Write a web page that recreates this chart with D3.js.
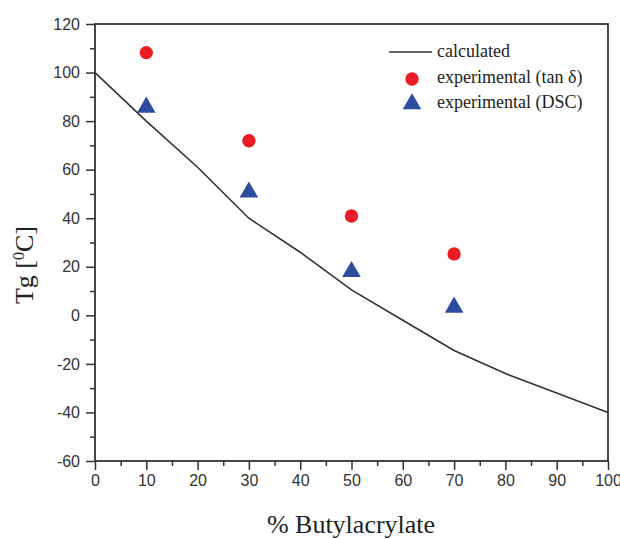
<!DOCTYPE html>
<html>
<head>
<meta charset="utf-8">
<script src="https://cdn.jsdelivr.net/npm/d3@7"></script>
<style>
  body { margin: 0; background: #fff; }
  .tick text { font-family: "Liberation Sans", Arial, sans-serif; font-size: 16px; fill: #333; }
  .tick line, .domain { stroke: #333; }
</style>
</head>
<body>
<div id="chart"></div>
<script>
  // percentages of butylacrylate
  var composition = [0, 10, 20, 30, 40, 50, 60, 70, 80, 90, 100];
  var calculated = [100, 80, 61, 40, 26, 10.5, -2, -14.5, -24, -32, -40];

  var expX = [10, 30, 50, 70];
  var tanDelta = [108.2, 71.9, 40.9, 25.3];
  var dsc = [85.7, 50.7, 18, 3.3];

  var xTicks = [0, 10, 20, 30, 40, 50, 60, 70, 80, 90, 100];
  var yTicks = [-60, -40, -20, 0, 20, 40, 60, 80, 100, 120];

  var legendLabels = ["calculated", "experimental (tan \u03b4)", "experimental (DSC)"];

  var W = 620, H = 539;
  var red = "#ec1c24", blue = "#2b4c9f", ink = "#333";

  var svg = d3.select("#chart").append("svg")
    .attr("width", W)
    .attr("height", H);

  var x = d3.scaleLinear().domain([0, 100]).range([95, 608]);
  var y = d3.scaleLinear().domain([-60, 120]).range([461, 24]);

  // plain hyphen for negatives, like the original
  var fmt = function(d) { return String(d); };

  // minor ticks first, then major with labels
  var xMinor = d3.range(5, 100, 10);
  var yMinor = d3.range(-50, 120, 20);

  svg.append("g")
    .attr("transform", "translate(0," + y(-60) + ")")
    .call(d3.axisBottom(x).tickValues(xMinor).tickSize(5).tickFormat(""))
    .call(function(g) { g.select(".domain").remove(); });

  svg.append("g")
    .attr("transform", "translate(" + x(0) + ",0)")
    .call(d3.axisLeft(y).tickValues(yMinor).tickSize(5).tickFormat(""))
    .call(function(g) { g.select(".domain").remove(); });

  svg.append("g")
    .attr("transform", "translate(0," + y(-60) + ")")
    .call(d3.axisBottom(x).tickValues(xTicks).tickSize(9).tickPadding(5).tickFormat(fmt))
    .call(function(g) { g.select(".domain").remove(); });

  svg.append("g")
    .attr("transform", "translate(" + x(0) + ",0)")
    .call(d3.axisLeft(y).tickValues(yTicks).tickSize(9).tickPadding(6).tickFormat(fmt))
    .call(function(g) { g.select(".domain").remove(); });

  svg.selectAll(".tick line").attr("stroke-width", 1.5);

  // frame
  svg.append("rect")
    .attr("x", x(0))
    .attr("y", y(120))
    .attr("width", x(100) - x(0))
    .attr("height", y(-60) - y(120))
    .attr("fill", "none")
    .attr("stroke", ink)
    .attr("stroke-width", 1.8);

  // calculated curve
  var line = d3.line()
    .x(function(d, i) { return x(composition[i]); })
    .y(function(d) { return y(d); });

  svg.append("path")
    .datum(calculated)
    .attr("d", line)
    .attr("fill", "none")
    .attr("stroke", ink)
    .attr("stroke-width", 1.6);

  var circle = d3.symbol().type(d3.symbolCircle).size(140);
  var tri = d3.symbol().type(d3.symbolTriangle).size(150);

  svg.append("g").selectAll("path")
    .data(tanDelta)
    .enter().append("path")
    .attr("d", circle)
    .attr("fill", red)
    .attr("transform", function(d, i) { return "translate(" + x(expX[i]) + "," + y(d) + ")"; });

  svg.append("g").selectAll("path")
    .data(dsc)
    .enter().append("path")
    .attr("d", tri)
    .attr("fill", blue)
    .attr("transform", function(d, i) { return "translate(" + x(expX[i]) + "," + y(d) + ")"; });

  // legend
  var lg = svg.append("g")
    .style("font-family", "'Liberation Serif', 'Times New Roman', serif")
    .style("font-size", "18px")
    .style("fill", "#222");

  lg.append("line")
    .attr("x1", 389).attr("x2", 432)
    .attr("y1", 52).attr("y2", 52)
    .attr("stroke", ink).attr("stroke-width", 1.6);
  lg.append("path").attr("d", circle).attr("fill", red)
    .attr("transform", "translate(412,79)");
  lg.append("path").attr("d", tri).attr("fill", blue)
    .attr("transform", "translate(412,104)");

  lg.selectAll("text")
    .data(legendLabels)
    .enter().append("text")
    .attr("x", 437)
    .attr("y", function(d, i) { return 57 + i * 25.5; })
    .text(function(d) { return d; });

  // axis titles
  svg.append("text")
    .attr("x", 351)
    .attr("y", 533)
    .attr("text-anchor", "middle")
    .style("font-family", "'Liberation Serif', 'Times New Roman', serif")
    .style("font-size", "26px")
    .style("fill", "#222")
    .text("% Butylacrylate");

  var yt = svg.append("text")
    .attr("transform", "translate(33,265) rotate(-90)")
    .attr("text-anchor", "middle")
    .style("font-family", "'Liberation Serif', 'Times New Roman', serif")
    .style("font-size", "26px")
    .style("fill", "#222");
  yt.append("tspan").text("Tg [");
  yt.append("tspan").attr("dy", -9).style("font-size", "16px").text("0");
  yt.append("tspan").attr("dy", 9).text("C]");
</script>
</body>
</html>
